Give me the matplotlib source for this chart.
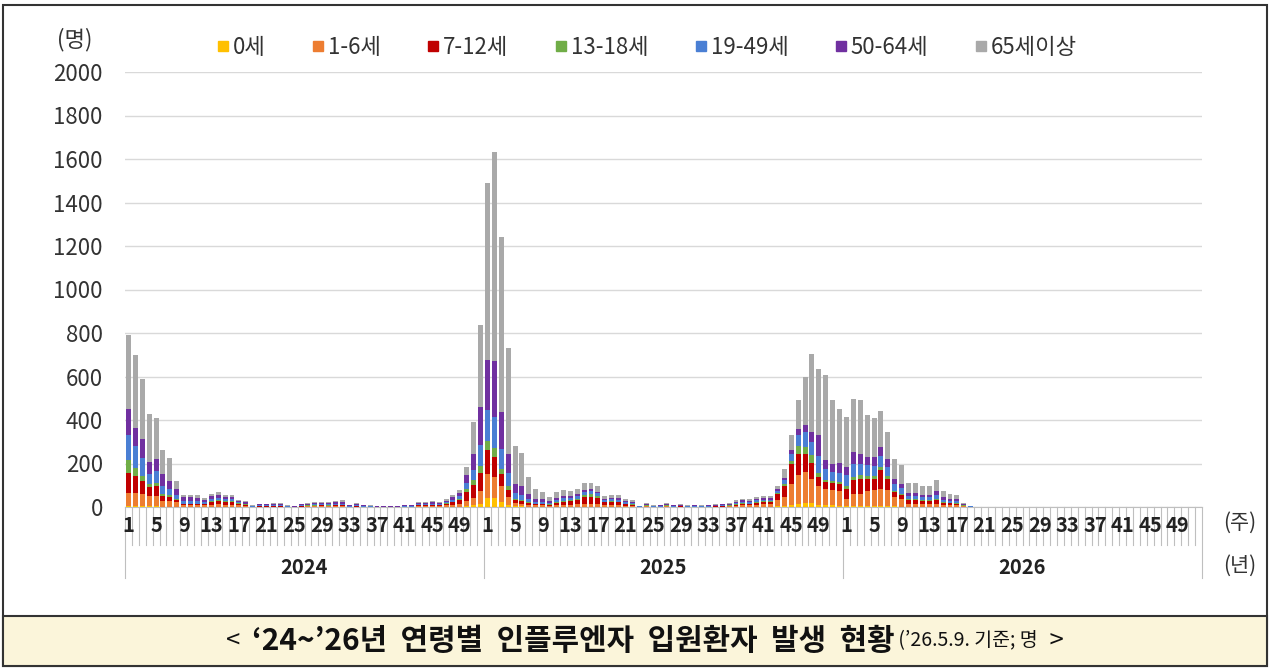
import numpy as np
import matplotlib
matplotlib.use("Agg")
import matplotlib.pyplot as plt
import matplotlib.transforms as mtransforms
from matplotlib.lines import Line2D
from matplotlib.patches import Rectangle

plt.rcParams['font.family'] = ['Noto Sans CJK KR', 'DejaVu Sans']

# weekly hospitalised influenza patients by age group
# each list: 2024 (wk 1-52), 2025 (wk 1-52), 2026 (wk 1-19)
age_0 = [5, 5, 4, 3, 3, 2, 2, 2, 1, 1, 1, 1, 1, 1, 1, 1, 1, 0, 0, 0, 0, 0, 0, 0, 0, 0,
         0, 0, 0, 0, 0, 0, 0, 0, 0, 0, 0, 0, 0, 0, 0, 0, 0, 0, 0, 0, 1, 1, 2, 4, 8, 15,
         40, 40, 25, 10, 3, 3, 2, 1, 1, 1, 1, 1, 1, 1, 1, 1, 1, 1, 1, 1, 0, 0, 0, 0, 0, 0,
         0, 0, 0, 0, 0, 0, 0, 0, 0, 0, 0, 1, 1, 1, 1, 1, 3, 4, 8, 15, 20, 20, 10, 8, 8, 6,
         4, 5, 5, 5, 5, 5, 4, 3, 2, 1, 1, 1, 1, 1, 1, 1, 1, 0, 0]
age_1_6 = [60, 60, 58, 47, 47, 26, 26, 20, 6, 6, 6, 6, 10, 12, 10, 10, 7, 5, 1, 2, 2, 2, 2, 1, 1, 2,
           3, 3, 3, 3, 3, 4, 1, 2, 1, 1, 1, 1, 1, 1, 1, 1, 3, 3, 4, 4, 6, 8, 10, 25, 35, 60,
           110, 100, 70, 35, 15, 12, 8, 6, 6, 5, 8, 10, 10, 12, 15, 15, 12, 8, 8, 8, 6, 5, 1, 3, 1, 1,
           3, 1, 2, 1, 1, 1, 1, 2, 2, 3, 5, 7, 6, 9, 12, 12, 30, 42, 98, 132, 141, 110, 85, 75, 72, 69,
           33, 55, 55, 67, 72, 78, 73, 43, 35, 15, 15, 12, 12, 14, 9, 8, 7, 3, 1]
age_7_12 = [90, 78, 58, 42, 46, 22, 18, 10, 5, 6, 6, 6, 12, 16, 14, 13, 8, 6, 1, 2, 2, 2, 2, 1, 0, 2,
            3, 3, 4, 3, 4, 4, 1, 2, 1, 1, 0, 0, 0, 0, 1, 1, 4, 4, 5, 5, 8, 12, 18, 40, 60, 80,
            110, 92, 55, 35, 15, 12, 8, 6, 6, 5, 10, 14, 16, 20, 30, 32, 30, 12, 14, 12, 8, 6, 1, 3, 1, 1,
            3, 1, 1, 1, 1, 1, 1, 1, 2, 3, 5, 7, 6, 9, 10, 10, 25, 51, 92, 98, 84, 72, 45, 32, 30, 32,
            48, 63, 70, 58, 53, 85, 53, 23, 20, 15, 16, 14, 14, 18, 10, 9, 8, 3, 1]
age_13_18 = [60, 38, 23, 12, 16, 8, 9, 5, 3, 3, 3, 2, 3, 4, 3, 3, 2, 1, 0, 1, 1, 1, 1, 0, 0, 1,
             1, 1, 1, 1, 1, 1, 0, 1, 0, 0, 0, 0, 0, 0, 0, 0, 1, 1, 1, 1, 2, 3, 5, 12, 20, 35,
             45, 38, 25, 15, 6, 5, 3, 2, 2, 1, 3, 4, 4, 6, 10, 10, 8, 3, 3, 3, 2, 2, 0, 1, 0, 0,
             1, 0, 0, 0, 0, 0, 0, 0, 1, 1, 2, 2, 2, 3, 3, 3, 6, 10, 14, 35, 31, 36, 15, 8, 8, 6,
             12, 15, 15, 12, 12, 15, 12, 6, 5, 4, 4, 3, 3, 4, 3, 2, 2, 1, 0]
age_19_49 = [115, 99, 84, 46, 54, 39, 26, 20, 14, 13, 12, 8, 10, 10, 8, 8, 5, 4, 2, 3, 3, 4, 4, 2, 1, 3,
             4, 5, 5, 5, 6, 7, 3, 4, 3, 2, 1, 1, 1, 1, 3, 3, 5, 5, 5, 4, 6, 10, 15, 30, 45, 95,
             140, 146, 90, 60, 27, 25, 15, 10, 9, 6, 10, 11, 10, 12, 14, 14, 12, 8, 9, 9, 6, 6, 1, 4, 2, 2,
             4, 2, 3, 2, 2, 2, 2, 3, 3, 4, 6, 7, 7, 8, 8, 8, 10, 18, 33, 50, 69, 61, 80, 52, 45, 45,
             49, 62, 55, 50, 48, 50, 42, 32, 25, 15, 15, 14, 14, 18, 10, 9, 8, 3, 1]
age_50_64 = [120, 85, 84, 55, 54, 53, 39, 25, 16, 16, 14, 10, 13, 12, 10, 9, 6, 5, 2, 4, 4, 5, 5, 2, 2, 4,
             5, 6, 5, 6, 7, 8, 3, 5, 3, 2, 2, 2, 2, 2, 3, 3, 5, 5, 6, 5, 6, 10, 15, 35, 77, 175,
             230, 253, 172, 90, 40, 40, 24, 14, 12, 8, 10, 10, 9, 9, 10, 10, 8, 6, 7, 8, 6, 5, 1, 4, 2, 3,
             4, 3, 3, 2, 3, 2, 3, 3, 4, 5, 6, 7, 7, 8, 8, 8, 8, 10, 17, 30, 34, 46, 98, 41, 35, 45,
             38, 53, 45, 38, 40, 43, 38, 23, 20, 15, 14, 13, 13, 18, 11, 10, 9, 4, 1]
age_65 = [340, 335, 279, 222, 190, 113, 105, 38, 12, 12, 12, 8, 12, 14, 11, 10, 5, 5, 2, 3, 3, 4, 4, 2, 1, 3,
          4, 5, 5, 5, 5, 6, 2, 4, 2, 2, 1, 1, 1, 1, 2, 2, 5, 5, 5, 4, 6, 10, 15, 38, 145, 378,
          815, 961, 803, 485, 174, 150, 80, 44, 34, 22, 28, 30, 25, 25, 30, 28, 26, 12, 13, 14, 9, 8, 2, 5, 2, 3,
          5, 3, 3, 2, 3, 2, 3, 3, 3, 4, 6, 7, 6, 7, 8, 8, 15, 42, 71, 130, 221, 360, 300, 389, 295, 247,
          230, 245, 245, 195, 180, 166, 123, 90, 85, 47, 47, 40, 40, 52, 28, 23, 19, 6, 1]

series = [age_0, age_1_6, age_7_12, age_13_18, age_19_49, age_50_64, age_65]
names = ['0세', '1-6세', '7-12세', '13-18세', '19-49세', '50-64세', '65세이상']
colors = ['#FFC000', '#ED7D31', '#C00000', '#70AD47', '#4A7FD4', '#7030A0', '#A9A9A9']
years = ['2024', '2025', '2026']
tick_weeks = [1, 5, 9, 13, 17, 21, 25, 29, 33, 37, 41, 45, 49]
n_weeks = 52

W, H = 1270, 668
fig = plt.figure(figsize=(W / 100, H / 100), dpi=100)

# plot area in pixels: x 125..1202, y 72..507
ax = fig.add_axes([125 / W, 1 - 507 / H, 1077 / W, 435 / H])
x = np.arange(len(age_0))
bottom = np.zeros(len(age_0))
for vals, c in zip(series, colors):
    ax.bar(x, vals, width=0.72, bottom=bottom, color=c, linewidth=0, zorder=3)
    bottom += np.array(vals)

ax.set_xlim(-0.5, n_weeks * len(years) - 0.5)
ax.set_ylim(0, 2000)
ax.set_yticks(range(0, 2001, 200))
ax.tick_params(axis='y', length=0, pad=16, labelsize=16, labelcolor='#333333')
ax.set_xticks([])
ax.grid(axis='y', color='#D9D9D9', linewidth=1)
ax.set_axisbelow(True)
for s in ['top', 'right', 'left']:
    ax.spines[s].set_visible(False)
ax.spines['bottom'].set_color('#BFBFBF')

# category axis: ticks between every week, longer ones between years
tr = mtransforms.blended_transform_factory(ax.transData, ax.transAxes)
for b in range(n_weeks * len(years) + 1):
    y_end = -71 / 435 if b % n_weeks == 0 else -38 / 435
    ax.plot([b - 0.5, b - 0.5], [0, y_end], color='#BFBFBF', lw=0.8,
            transform=tr, clip_on=False)
for k, yr in enumerate(years):
    for w in tick_weeks:
        ax.text(k * n_weeks + w - 1, -19 / 435, str(w), transform=tr, ha='center',
                va='center', fontsize=14.5, fontweight='bold', color='#222222')
    ax.text(k * n_weeks + (n_weeks - 1) / 2, -60 / 435, yr, transform=tr, ha='center',
            va='center', fontsize=14.5, fontweight='bold', color='#222222')

fig.text(1240 / W, 1 - 523 / H, '(주)', ha='center', va='center', fontsize=15, color='#333333')
fig.text(1240 / W, 1 - 566 / H, '(년)', ha='center', va='center', fontsize=15, color='#333333')
fig.text(75 / W, 1 - 40 / H, '(명)', ha='center', va='center', fontsize=16, color='#333333')

handles = [Line2D([], [], marker='s', markersize=7, color=c, linestyle='') for c in colors]
fig.legend(handles, names, loc='center', bbox_to_anchor=(645 / W, 1 - 47 / H), ncol=7,
           frameon=False, fontsize=16, handletextpad=0.0, columnspacing=1.9,
           handlelength=0.9, labelcolor='#333333')

# outer frame and caption box
fig.add_artist(Rectangle((3 / W, 2 / H), 1264 / W, 661 / H, transform=fig.transFigure,
                         fill=False, edgecolor='#333333', lw=1.5))
fig.add_artist(Rectangle((3 / W, 2 / H), 1264 / W, 50 / H, transform=fig.transFigure,
                         facecolor='#FBF5DA', edgecolor='#333333', lw=1.5))

# caption made of pieces with different weights/sizes
pieces = [('<  ', 'normal', 18.5), ('‘24~’26년  연령별  인플루엔자  입원환자  발생  현황', 'bold', 21.5),
          (' (’26.5.9. 기준; 명', 'normal', 14), ('  >', 'normal', 18.5)]
renderer = fig.canvas.get_renderer()
texts = []
for s, wgt, fs in pieces:
    t = fig.text(0, 1 - 641 / H, s, fontsize=fs, fontweight=wgt, va='center', ha='left',
                 color='#111111')
    texts.append(t)
widths = [t.get_window_extent(renderer).width for t in texts]
xpos = 645 - sum(widths) / 2
for t, wd in zip(texts, widths):
    t.set_x(xpos / W)
    xpos += wd

fig.savefig('out.png', dpi=100)
